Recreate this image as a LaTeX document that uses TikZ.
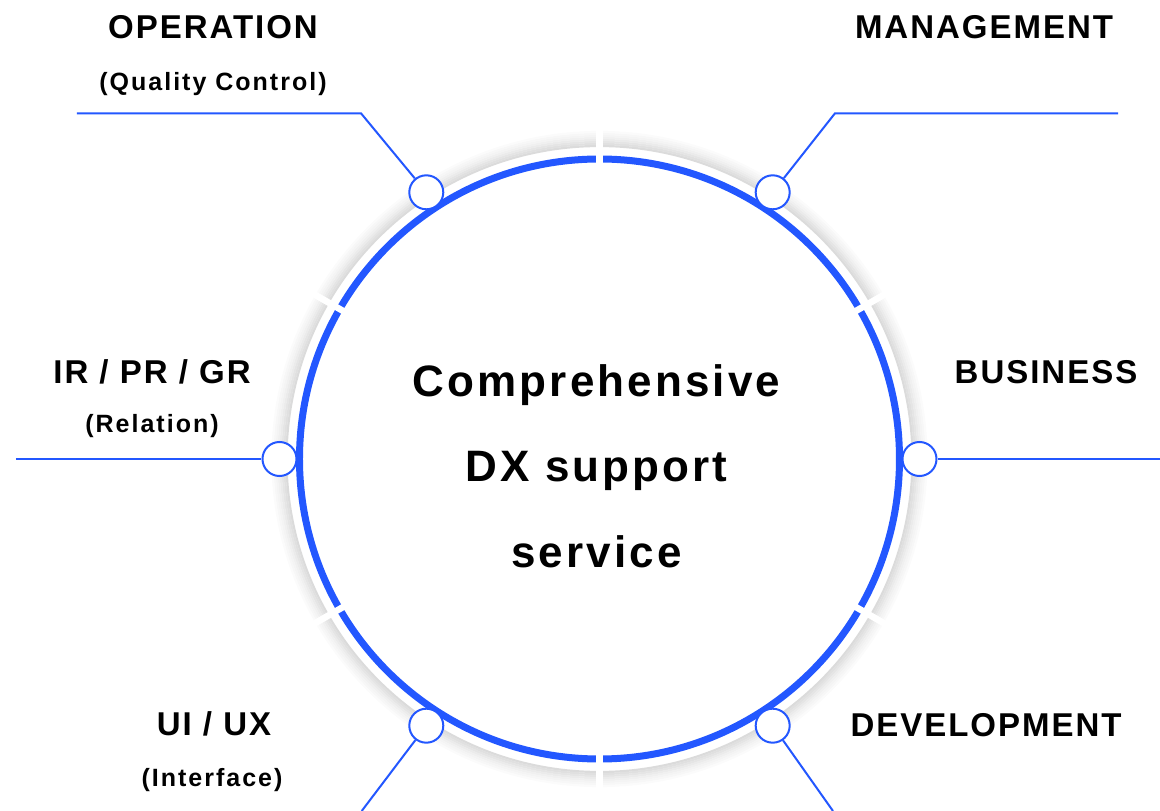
\documentclass[tikz,border=0pt]{standalone}
\usepackage{fontspec}
\setmainfont{Liberation Sans}
\newfontfamily\headfont[LetterSpace=6]{Liberation Sans}
\newfontfamily\subfont[LetterSpace=8]{Liberation Sans}
\newfontfamily\corefont[LetterSpace=7]{Liberation Sans}
\usepackage{xcolor}
\definecolor{dxblue}{RGB}{35,87,255}

\begin{document}
\begin{tikzpicture}[x=1pt, y=1pt,
    dot/.style={circle, draw=dxblue, fill=white, line width=2pt, minimum size=34pt, inner sep=0pt},
    leader/.style={draw=dxblue, line width=2pt},
    head/.style={anchor=base, font=\headfont\bfseries\fontsize{33}{40}\selectfont},
    sub/.style={anchor=base, font=\subfont\bfseries\fontsize{25}{30}\selectfont},
    core/.style={align=center, font=\corefont\bfseries\fontsize{44}{85.7}\selectfont}]

  \useasboundingbox (-599.5,-352) rectangle (560.5,459);

  % Soft grey halo round the disc
  \foreach \r/\g in {313/14, 315/12, 317/10, 319/8, 321/6, 323/4.5, 325/3, 327/1.5} {
    \draw[black!\g, line width=2.2pt] (0,0) circle[radius=\r pt];
  }

  % Blue ring with six cuts
  \draw[dxblue, line width=7pt] (0,0) circle[radius=300pt];
  \foreach \a in {30,90,...,330} {
    \draw[white, line width=6.5pt] (\a:292pt) -- (\a:332pt);
  }

  % Centre text
  \node[core] (core) at (-3,-7) {Comprehensive\\DX support\\service};

  % Dots on the ring
  \node[dot] (OPdot) at (123:318pt) {};
  \node[dot] (MGdot) at (57:318pt) {};
  \node[dot] (IRdot) at (180:320pt) {};
  \node[dot] (BSdot) at (0:320pt) {};
  \node[dot] (UIdot) at (-123:318pt) {};
  \node[dot] (DVdot) at (-57:318pt) {};

  % Leader ends
  \coordinate (OPend) at (-522.5,345.7);
  \coordinate (OPbend) at (-238.5,345.7);
  \coordinate (MGend) at (518.5,345.7);
  \coordinate (MGbend) at (235.5,345.7);
  \coordinate (IRend) at (-583.5,0);
  \coordinate (BSend) at (560.5,0);
  \coordinate (UIend) at (-237.8,-352);
  \coordinate (DVend) at (233.5,-352);

  \draw[leader] (OPend) -- (OPbend) -- (OPdot);
  \draw[leader] (MGend) -- (MGbend) -- (MGdot);
  \draw[leader] (IRend) -- (IRdot);
  \draw[leader] (BSend) -- (BSdot);
  \draw[leader] (UIend) -- (UIdot);
  \draw[leader] (DVend) -- (DVdot);

  % Labels
  \node[head] (OP) at (-386.5,420) {OPERATION};
  \node[sub] (OPsub) at (-386.5,368) {(Quality Control)};
  \node[head] (MG) at (384.5,420) {MANAGEMENT};
  \node[head] (IR) at (-447.5,75) {IR / PR / GR};
  \node[sub] (IRsub) at (-447.5,26.3) {(Relation)};
  \node[head] (BS) at (446.5,75.7) {BUSINESS};
  \node[head] (UI) at (-385.5,-276.7) {UI / UX};
  \node[sub] (UIsub) at (-387.5,-327.7) {(Interface)};
  \node[head] (DV) at (386.5,-277) {DEVELOPMENT};

\end{tikzpicture}
\end{document}
